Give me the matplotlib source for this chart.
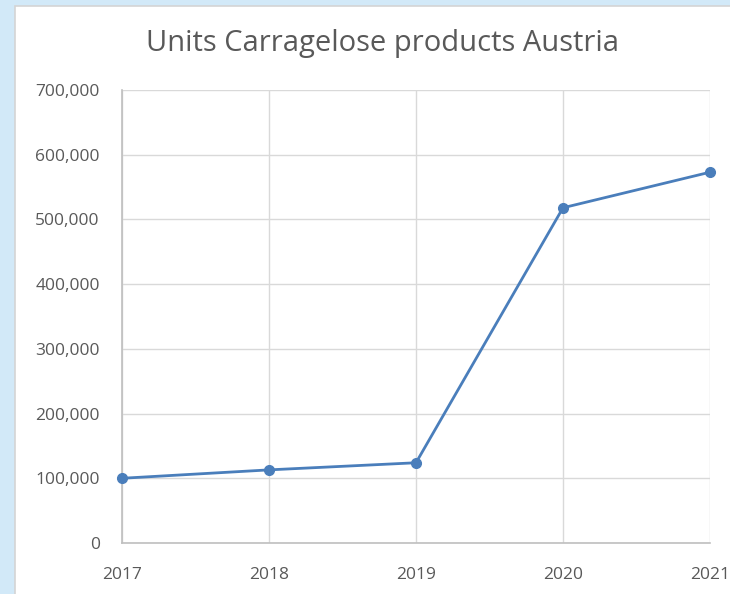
import matplotlib.pyplot as plt
from matplotlib.patches import Rectangle
from matplotlib.ticker import FuncFormatter

years = ['2017', '2018', '2019', '2020', '2021']
units = [100000, 113000, 124000, 518000, 573000]
title = 'Units Carragelose products Austria'

plt.rcParams['font.family'] = ['Open Sans', 'DejaVu Sans']
line_color = '#4a7ebb'
text_color = '#595959'
grid_color = '#d9d9d9'

fig = plt.figure(figsize=(7.3, 5.94), dpi=100)
fig.patch.set_facecolor('#d2e9f8')

# white chart panel with a thin grey edge
panel = Rectangle((15 / 730, -0.01), 1.0, 1 - 6 / 594 + 0.01, transform=fig.transFigure,
                  facecolor='white', edgecolor='#d4d4d4', linewidth=1.2, zorder=-10)
fig.patches.append(panel)

ax = fig.add_axes([122 / 730, 1 - 543 / 594, (710 - 122) / 730, (543 - 90) / 594])
ax.set_facecolor('white')

x = list(range(len(years)))
ax.plot(x, units, color=line_color, linewidth=2.0, marker='o', markersize=7,
        clip_on=False, zorder=3)

ax.set_xlim(0, len(years) - 1)
ax.set_ylim(0, 700000)
ax.set_yticks(range(0, 700001, 100000))
ax.yaxis.set_major_formatter(FuncFormatter(lambda v, p: f'{int(v):,}'))
ax.set_xticks(x)
ax.set_xticklabels(years)

ax.grid(True, color=grid_color, linewidth=1.0)
ax.set_axisbelow(True)
for side in ['top', 'right']:
    ax.spines[side].set_visible(False)
for side in ['left', 'bottom']:
    ax.spines[side].set_color('#bfbfbf')
    ax.spines[side].set_linewidth(1.2)

ax.tick_params(length=0, labelsize=12.5, colors=text_color)
ax.tick_params(axis='y', pad=16)
ax.tick_params(axis='x', pad=17)

fig.text(383 / 730, 1 - 44 / 594, title, ha='center', va='center',
         fontsize=21, color=text_color)

fig.savefig('out.png', dpi=100, facecolor=fig.get_facecolor())
